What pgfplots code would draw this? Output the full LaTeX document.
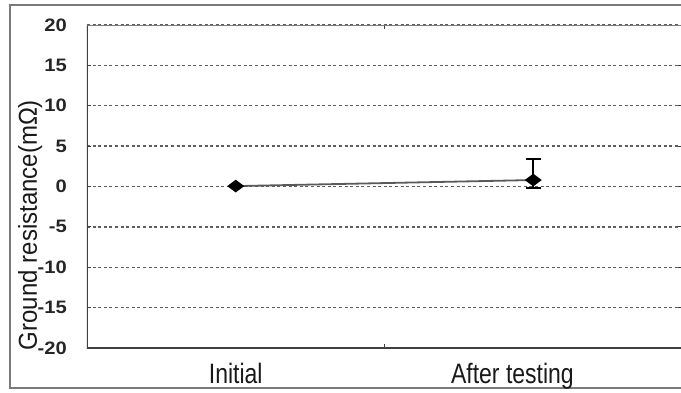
\documentclass[border=0pt]{standalone}
\usepackage{pgfplots}
\pgfplotsset{compat=1.18}
\usepackage{fontspec}
\setmainfont{Liberation Sans}

\definecolor{framegray}{HTML}{7A7A7A}
\definecolor{axisdark}{HTML}{404040}
\definecolor{gridgray}{HTML}{5E5E5E}
\definecolor{linegray}{HTML}{5A5A5A}

% slightly widened tick numbers
\newcommand{\wn}[1]{\scalebox{1.12}[1]{#1}}
% slightly tall category names
\newcommand{\tn}[1]{\scalebox{1}[1.22]{#1}}

\begin{document}
\begin{tikzpicture}[x=1pt,y=1pt]
\useasboundingbox (0,0) rectangle (681,392);
% outer chart frame
\draw[line width=1.8pt, framegray] (10,4) rectangle (700,387);
% y axis title
\node[rotate=90, anchor=base, inner sep=0pt, text=black!90]
  at (37,167) {\fontsize{24}{24}\selectfont\scalebox{1}[1.08]{Ground resistance(mΩ)}};
\begin{axis}[
  at={(87pt,44pt)}, anchor=south west,
  scale only axis, width=595pt, height=323pt,
  xmin=-0.5, xmax=1.5, ymin=-20, ymax=20,
  axis line style={draw=none},
  xtick={0.5}, xticklabels={},
  extra x ticks={0,0.93},
  extra x tick labels={\tn{Initial}, \tn{After testing}},
  extra x tick style={
    major tick length=0pt, grid=none,
    xticklabel style={anchor=base, yshift=-35pt, inner sep=0pt,
      font=\fontsize{23}{23}\selectfont, text=black!90},
  },
  ytick={-20,-15,...,20},
  yticklabels={\wn{-20},\wn{-15},\wn{-10},\wn{-5},\wn{0},\wn{5},\wn{10},\wn{15},\wn{20}},
  yticklabel style={anchor=east, inner sep=0pt, xshift=-20pt,
    font=\bfseries\fontsize{18}{18}\selectfont, text=black!85},
  tick align=inside, major tick length=4pt,
  tick style={axisdark, line width=1pt},
  ymajorgrids,
  grid style={gridgray, line width=1.3pt, dash pattern=on 3pt off 2.6pt},
]
% spread of the after-testing readings
\addplot[draw=none, forget plot,
  error bars/.cd, y dir=both, y explicit,
  error bar style={black, line width=1.6pt},
  error mark options={black, line width=1.6pt, mark size=7.5pt, rotate=90}]
  coordinates {(1,0.8) += (0,2.6) -= (0,1.0)};
% mean ground resistance
\addplot[linegray, line width=1.8pt, mark=diamond*,
  mark size=7pt, mark options={black, fill=black, rotate=90}]
  coordinates {(0,0.05) (1,0.8)};
% plot area border
\draw[axisdark, line width=1.6pt] (rel axis cs:0,1) -- (rel axis cs:0,0) -- (rel axis cs:1,0);
\draw[framegray, line width=1.2pt] (rel axis cs:0,1) -- (rel axis cs:1,1);
\draw[black!25, line width=1pt] (rel axis cs:1,1) -- (rel axis cs:1,0);
\end{axis}
\end{tikzpicture}
\end{document}
